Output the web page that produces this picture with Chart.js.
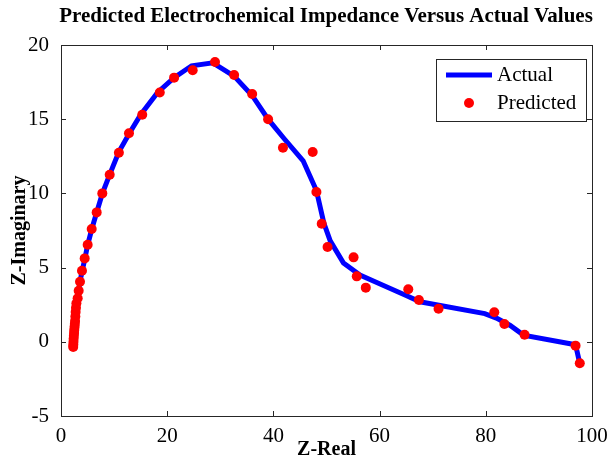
<!DOCTYPE html>
<html>
<head>
<meta charset="utf-8">
<script src="https://cdn.jsdelivr.net/npm/chart.js@4/dist/chart.umd.min.js"></script>
<style>
html,body{margin:0;padding:0;background:#fff;}
#wrap{width:609px;height:464px;}
</style>
</head>
<body>
<div id="wrap"><canvas id="c" width="609" height="464"></canvas></div>
<script>
// Actual curve
const actualReal = [2.3,2.4,2.5,2.6,2.7,2.8,3.0,3.3,3.6,4.0,4.5,5.0,5.8,6.7,7.8,9.2,10.9,12.8,15.0,18.2,21.3,24.6,28.6,32.6,36.0,39.0,42.0,45.6,48.1,49.5,50.7,53.2,56.3,60.1,65.1,67.6,79.8,82.0,84.6,87.1,96.9,97.7];
const actualImag = [-0.4,0.0,0.5,1.0,1.5,2.0,2.6,3.4,4.1,4.8,5.6,6.5,7.6,8.7,10.0,11.3,12.8,14.0,15.3,16.8,17.8,18.6,18.8,17.9,16.6,15.0,13.7,12.2,10.2,8.0,6.8,5.3,4.5,3.9,3.1,2.7,1.9,1.6,1.1,0.45,-0.2,-1.45];
// Predicted points
const predReal = [2.3,2.32,2.35,2.38,2.42,2.46,2.5,2.55,2.6,2.65,2.7,2.76,2.82,2.9,3.14,3.33,3.58,3.95,4.46,5.02,5.78,6.72,7.78,9.17,10.9,12.8,15.3,18.6,21.3,24.8,29.0,32.6,36.0,39.0,41.8,47.4,48.1,49.1,50.2,55.1,55.7,57.4,65.4,67.4,71.1,81.6,83.5,87.3,96.9,97.7];
const predImag = [-0.35,-0.2,0.0,0.2,0.4,0.6,0.8,1.0,1.2,1.4,1.7,2.0,2.3,2.6,2.93,3.44,4.05,4.79,5.62,6.54,7.6,8.72,10.0,11.26,12.74,14.05,15.3,16.8,17.8,18.3,18.85,17.98,16.7,15.0,13.08,12.79,10.1,7.96,6.39,5.69,4.41,3.65,3.54,2.82,2.23,1.99,1.2,0.48,-0.26,-1.45];
const xTicks = [0,20,40,60,80,100];
const yTicks = [-5,0,5,10,15,20];
const seriesNames = ['Actual','Predicted'];
const titleText = 'Predicted Electrochemical Impedance Versus Actual Values';
const xTitle = 'Z-Real';
const yTitle = 'Z-Imaginary';

const serif = '"Liberation Serif","Times New Roman",serif';
const axisColor = '#262626';

const frame = {
  id: 'frame',
  afterDraw(chart) {
    const {ctx, chartArea: a, scales: {x, y}} = chart;
    ctx.save();
    ctx.strokeStyle = axisColor;
    ctx.lineWidth = 1;
    ctx.strokeRect(Math.round(a.left)+0.5, Math.round(a.top)+0.5, Math.round(a.right-a.left), Math.round(a.bottom-a.top));
    const tl = 5;
    ctx.beginPath();
    xTicks.forEach(v => {
      const px = Math.round(x.getPixelForValue(v))+0.5;
      ctx.moveTo(px, a.bottom); ctx.lineTo(px, a.bottom - tl);
      ctx.moveTo(px, a.top); ctx.lineTo(px, a.top + tl);
    });
    yTicks.forEach(v => {
      const py = Math.round(y.getPixelForValue(v))+0.5;
      ctx.moveTo(a.left, py); ctx.lineTo(a.left + tl, py);
      ctx.moveTo(a.right, py); ctx.lineTo(a.right - tl, py);
    });
    ctx.stroke();
    // title
    ctx.fillStyle = '#000';
    ctx.font = 'bold 21px ' + serif;
    ctx.textAlign = 'center';
    ctx.textBaseline = 'middle';
    ctx.fillText(titleText, 326, 17);
    // legend
    const lx = 436, ly = 59, lw = 150, lh = 62;
    ctx.fillStyle = '#fff';
    ctx.fillRect(lx, ly, lw, lh);
    ctx.strokeStyle = axisColor;
    ctx.strokeRect(lx+0.5, ly+0.5, lw, lh);
    ctx.strokeStyle = chart.data.datasets[0].borderColor;
    ctx.lineWidth = 5;
    ctx.beginPath(); ctx.moveTo(446, 75); ctx.lineTo(492, 75); ctx.stroke();
    ctx.fillStyle = chart.data.datasets[1].backgroundColor;
    ctx.beginPath(); ctx.arc(469, 103, 5, 0, Math.PI*2); ctx.fill();
    ctx.fillStyle = '#000';
    ctx.font = '21px ' + serif;
    ctx.textAlign = 'left';
    ctx.fillText(seriesNames[0], 497, 75);
    ctx.fillText(seriesNames[1], 497, 103);
    ctx.restore();
  }
};

new Chart(document.getElementById('c'), {
  type: 'scatter',
  data: {
    datasets: [
      {
        label: seriesNames[0],
        data: actualReal.map((v,i)=>({x:v, y:actualImag[i]})),
        showLine: true,
        borderColor: '#0000FF',
        backgroundColor: '#0000FF',
        borderWidth: 5,
        pointRadius: 0,
        tension: 0,
        order: 2
      },
      {
        label: seriesNames[1],
        data: predReal.map((v,i)=>({x:v, y:predImag[i]})),
        showLine: false,
        borderColor: '#FF0000',
        backgroundColor: '#FF0000',
        pointRadius: 5,
        pointBorderWidth: 0,
        order: 1
      }
    ]
  },
  options: {
    responsive: false,
    animation: false,
    devicePixelRatio: 1,
    layout: {padding: {left: 0, right: 17, top: 45, bottom: 0}},
    plugins: {legend: {display: false}, title: {display: false}, tooltip: {enabled: false}},
    scales: {
      x: {
        type: 'linear', min: 0, max: 100,
        afterBuildTicks: s => { s.ticks = xTicks.map(v => ({value: v})); },
        afterFit: s => { s.height = 48; },
        grid: {display: false},
        border: {display: false},
        ticks: {color: '#000', font: {family: serif, size: 21}, padding: 0, maxRotation: 0},
        title: {display: true, text: xTitle, color: '#000', font: {family: serif, size: 20, weight: 'bold'}, padding: {top: 0, bottom: 2}}
      },
      y: {
        type: 'linear', min: -5, max: 20,
        afterBuildTicks: s => { s.ticks = yTicks.map(v => ({value: v})); },
        afterFit: s => { s.width = 61; },
        grid: {display: false},
        border: {display: false},
        ticks: {color: '#000', font: {family: serif, size: 21}, padding: 4},
        title: {display: true, text: yTitle, color: '#000', font: {family: serif, size: 20, weight: 'bold'}, padding: {top: 8, bottom: 0}}
      }
    }
  },
  plugins: [frame]
});
</script>
</body>
</html>
